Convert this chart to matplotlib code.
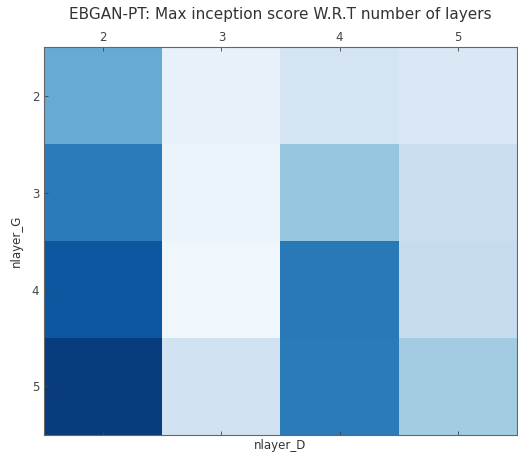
import numpy as np
import matplotlib
matplotlib.use("Agg")
from matplotlib import pyplot as plt

nlayer_D = [2, 3, 4, 5]
nlayer_G = [2, 3, 4, 5]
# max inception score, rows = nlayer_G, cols = nlayer_D
scores = np.array([
    [6.08, 5.15, 5.38, 5.30],
    [6.50, 5.13, 5.83, 5.47],
    [6.80, 5.08, 6.52, 5.52],
    [7.02, 5.41, 6.50, 5.76],
])

plt.rcParams['font.family'] = ['DejaVu Sans']
plt.rcParams['text.color'] = '#333333'
plt.rcParams['axes.labelcolor'] = '#333333'
plt.rcParams['xtick.color'] = '#444444'
plt.rcParams['ytick.color'] = '#444444'

fig = plt.figure(figsize=(5.18, 4.54), dpi=100)
ax = fig.add_axes([0.085, 0.042, 0.913, 0.854])
ax.matshow(scores, cmap='Blues', vmin=5.0, vmax=7.12, aspect='auto')

ax.set_xticks(range(len(nlayer_D)))
ax.set_xticklabels(nlayer_D, fontsize=8.5)
ax.set_yticks(range(len(nlayer_G)))
ax.set_yticklabels(nlayer_G, fontsize=8.5)
ax.tick_params(direction='in', length=3, width=0.6)
ax.tick_params(axis='x', top=True, bottom=True, pad=2)

ax.set_xlabel('nlayer_D', fontsize=8.5, labelpad=3)
ax.xaxis.set_label_position('bottom')
ax.set_ylabel('nlayer_G', fontsize=8.5, labelpad=6)
ax.set_title('EBGAN-PT: Max inception score W.R.T number of layers',
             fontsize=11, pad=20)

for s in ax.spines.values():
    s.set_color('#666666')

fig.savefig('out.png', dpi=100)
